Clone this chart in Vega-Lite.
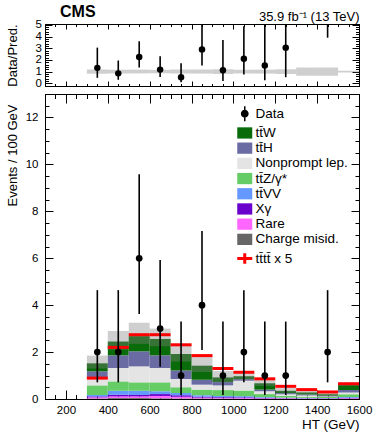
{
  "$schema": "https://vega.github.io/schema/vega-lite/v6.json",
  "background": "white",
  "padding": {"left": 5, "top": 3, "right": 2, "bottom": 2},
  "config": {
    "font": "Liberation Sans",
    "view": {"stroke": "#000000", "strokeWidth": 1},
    "axis": {"grid": false, "domainColor": "#000000", "tickColor": "#000000", "labelColor": "#000000", "titleColor": "#000000", "labelFont": "Liberation Sans", "titleFont": "Liberation Sans", "titleFontWeight": "normal", "labelFontSize": 11.5, "titleFontSize": 13, "domainWidth": 1, "tickWidth": 1, "labelOverlap": false, "labelFlush": false, "labelBound": false},
    "title": {"font": "Liberation Sans", "color": "#000000"}
  },
  "datasets": {
    "stack": [
      {"lo": 300, "hi": 400, "cm": 0.02, "rare": 0.05, "xg": 0.04, "ttvv": 0.06, "ttz": 0.41, "np": 0.31, "tth": 0.29, "ttw": 0.34},
      {"lo": 400, "hi": 500, "cm": 0.04, "rare": 0.07, "xg": 0.07, "ttvv": 0.17, "ttz": 0.40, "np": 0.57, "tth": 0.54, "ttw": 0.59},
      {"lo": 500, "hi": 600, "cm": 0.04, "rare": 0.07, "xg": 0.06, "ttvv": 0.18, "ttz": 0.36, "np": 0.68, "tth": 0.64, "ttw": 0.65},
      {"lo": 600, "hi": 700, "cm": 0.03, "rare": 0.10, "xg": 0.08, "ttvv": 0.12, "ttz": 0.38, "np": 0.61, "tth": 0.54, "ttw": 0.70},
      {"lo": 700, "hi": 800, "cm": 0.02, "rare": 0.08, "xg": 0.06, "ttvv": 0.10, "ttz": 0.24, "np": 0.35, "tth": 0.37, "ttw": 0.70},
      {"lo": 800, "hi": 900, "cm": 0.02, "rare": 0.04, "xg": 0.04, "ttvv": 0.06, "ttz": 0.24, "np": 0.21, "tth": 0.21, "ttw": 0.60},
      {"lo": 900, "hi": 1000, "cm": 0.02, "rare": 0.03, "xg": 0.03, "ttvv": 0.05, "ttz": 0.25, "np": 0.20, "tth": 0.14, "ttw": 0.20},
      {"lo": 1000, "hi": 1100, "cm": 0.01, "rare": 0.03, "xg": 0.03, "ttvv": 0.05, "ttz": 0.24, "np": 0.42, "tth": 0.07, "ttw": 0.12},
      {"lo": 1100, "hi": 1200, "cm": 0.01, "rare": 0.02, "xg": 0.02, "ttvv": 0.03, "ttz": 0.13, "np": 0.12, "tth": 0.07, "ttw": 0.27},
      {"lo": 1200, "hi": 1300, "cm": 0.01, "rare": 0.02, "xg": 0.01, "ttvv": 0.02, "ttz": 0.08, "np": 0.06, "tth": 0.05, "ttw": 0.10},
      {"lo": 1300, "hi": 1400, "cm": 0.01, "rare": 0.01, "xg": 0.01, "ttvv": 0.02, "ttz": 0.05, "np": 0.05, "tth": 0.04, "ttw": 0.09},
      {"lo": 1400, "hi": 1500, "cm": 0.01, "rare": 0.01, "xg": 0.01, "ttvv": 0.01, "ttz": 0.04, "np": 0.03, "tth": 0.03, "ttw": 0.06},
      {"lo": 1500, "hi": 1600, "cm": 0.01, "rare": 0.02, "xg": 0.02, "ttvv": 0.03, "ttz": 0.12, "np": 0.08, "tth": 0.10, "ttw": 0.25}
    ],
    "comps": [
      {"key": "cm", "c": "Charge misid.", "k": 0},
      {"key": "rare", "c": "Rare", "k": 1},
      {"key": "xg", "c": "Xγ", "k": 2},
      {"key": "ttvv", "c": "tt̄VV", "k": 3},
      {"key": "ttz", "c": "tt̄Z/γ*", "k": 4},
      {"key": "np", "c": "Nonprompt lep.", "k": 5},
      {"key": "tth", "c": "tt̄H", "k": 6},
      {"key": "ttw", "c": "tt̄W", "k": 7}
    ],
    "bins": [
      {"lo": 300, "hi": 400, "ulo": 1.30, "uhi": 1.85, "sig": 0.89, "rlo": 0.82, "rhi": 1.18},
      {"lo": 400, "hi": 500, "ulo": 2.10, "uhi": 2.90, "sig": 2.20, "rlo": 0.84, "rhi": 1.16},
      {"lo": 500, "hi": 600, "ulo": 2.35, "uhi": 3.25, "sig": 2.74, "rlo": 0.85, "rhi": 1.17},
      {"lo": 600, "hi": 700, "ulo": 2.25, "uhi": 3.00, "sig": 2.74, "rlo": 0.86, "rhi": 1.15},
      {"lo": 700, "hi": 800, "ulo": 1.60, "uhi": 2.35, "sig": 2.31, "rlo": 0.84, "rhi": 1.17},
      {"lo": 800, "hi": 900, "ulo": 1.15, "uhi": 1.85, "sig": 1.85, "rlo": 0.83, "rhi": 1.18},
      {"lo": 900, "hi": 1000, "ulo": 0.72, "uhi": 1.20, "sig": 1.30, "rlo": 0.80, "rhi": 1.20},
      {"lo": 1000, "hi": 1100, "ulo": 0.80, "uhi": 1.15, "sig": 1.14, "rlo": 0.84, "rhi": 1.16},
      {"lo": 1100, "hi": 1200, "ulo": 0.55, "uhi": 0.85, "sig": 0.86, "rlo": 0.83, "rhi": 1.17},
      {"lo": 1200, "hi": 1300, "ulo": 0.27, "uhi": 0.47, "sig": 0.54, "rlo": 0.80, "rhi": 1.20},
      {"lo": 1300, "hi": 1400, "ulo": 0.20, "uhi": 0.38, "sig": 0.40, "rlo": 0.65, "rhi": 1.35},
      {"lo": 1400, "hi": 1500, "ulo": 0.13, "uhi": 0.28, "sig": 0.30, "rlo": 0.65, "rhi": 1.35},
      {"lo": 1500, "hi": 1600, "ulo": 0.55, "uhi": 0.70, "sig": 0.65, "rlo": 0.92, "rhi": 1.08}
    ],
    "obs": [
      {"x": 350, "n": 2, "elo": 0.71, "ehi": 4.64, "r": 1.32, "rlo": 0.47, "rhi": 3.05},
      {"x": 450, "n": 2, "elo": 0.71, "ehi": 4.64, "r": 0.85, "rlo": 0.30, "rhi": 1.95},
      {"x": 550, "n": 6, "elo": 3.62, "ehi": 9.58, "r": 2.25, "rlo": 1.36, "rhi": 3.60},
      {"x": 650, "n": 3, "elo": 1.37, "ehi": 5.92, "r": 1.17, "rlo": 0.53, "rhi": 2.31},
      {"x": 750, "n": 1, "elo": 0.17, "ehi": 3.30, "r": 0.52, "rlo": 0.09, "rhi": 1.72},
      {"x": 850, "n": 4, "elo": 2.09, "ehi": 7.16, "r": 2.90, "rlo": 1.52, "rhi": 5.19},
      {"x": 950, "n": 1, "elo": 0.17, "ehi": 3.30, "r": 1.12, "rlo": 0.19, "rhi": 3.70},
      {"x": 1050, "n": 2, "elo": 0.71, "ehi": 4.64, "r": 2.10, "rlo": 0.75, "rhi": 4.88},
      {"x": 1150, "n": 1, "elo": 0.17, "ehi": 3.30, "r": 1.53, "rlo": 0.27, "rhi": 5.08},
      {"x": 1250, "n": 1, "elo": 0.17, "ehi": 3.30, "r": 3.05, "rlo": 0.52, "rhi": 10.0},
      {"x": 1450, "n": 2, "elo": 0.71, "ehi": 4.64, "r": 11.1, "rlo": 3.90, "rhi": 25.0}
    ]
  },
  "spacing": 8,
  "bounds": "flush",
  "resolve": {"scale": {"color": "independent"}},
  "vconcat": [
    {
      "width": 314,
      "height": 62,
      "title": {"text": "CMS", "anchor": "start", "frame": "group", "dx": 15, "fontSize": 16, "fontWeight": "bold", "offset": -22.5, "baseline": "alphabetic"},
      "resolve": {"axis": {"x": "independent", "y": "independent"}},
      "layer": [
        {
          "data": {"name": "bins"},
          "mark": {"type": "rect", "fill": "#808080", "fillOpacity": 0.38, "strokeWidth": 0},
          "encoding": {
            "x": {"field": "lo", "type": "quantitative", "scale": {"domain": [100, 1600], "nice": false, "zero": false},
              "axis": {"orient": "bottom", "labels": false, "title": null, "values": [150,200,250,300,350,400,450,500,550,600,650,700,750,800,850,900,950,1000,1050,1100,1150,1200,1250,1300,1350,1400,1450,1500,1550,1600],
                "tickSize": {"condition": {"test": "datum.value % 200 === 0", "value": -5}, "value": -2.5}}},
            "x2": {"field": "hi"},
            "y": {"field": "rlo", "type": "quantitative", "scale": {"domain": [-0.23, 5.07], "nice": false, "zero": false},
              "axis": {"orient": "left", "values": [0,0.2,0.4,0.6,0.8,1,1.2,1.4,1.6,1.8,2,2.2,2.4,2.6,2.8,3,3.2,3.4,3.6,3.8,4,4.2,4.4,4.6,4.8,5],
                "labelExpr": "datum.value % 1 === 0 ? format(datum.value, 'd') : ''",
                "tickSize": {"condition": {"test": "datum.value % 1 === 0", "value": -7}, "value": -3.5},
                "labelPadding": 10.5, "title": "Data/Pred.", "titleX": -33, "titleY": 0, "titleAngle": 270, "titleAlign": "right", "titleBaseline": "middle"}},
            "y2": {"field": "rhi"}
          }
        },
        {
          "mark": {"type": "rule", "color": "#000000", "strokeWidth": 1},
          "encoding": {"y": {"datum": 1, "type": "quantitative", "axis": null}}
        },
        {
          "data": {"name": "obs"},
          "mark": {"type": "rule", "color": "#000000", "strokeWidth": 1.6, "clip": true},
          "encoding": {
            "x": {"field": "x", "type": "quantitative",
              "axis": {"orient": "top", "labels": false, "values": [150,200,250,300,350,400,450,500,550,600,650,700,750,800,850,900,950,1000,1050,1100,1150,1200,1250,1300,1350,1400,1450,1500,1550,1600],
                "tickSize": {"condition": {"test": "datum.value % 200 === 0", "value": -5}, "value": -2.5},
                "title": "35.9 fb⁻¹ (13 TeV)", "titleFontSize": 13, "titleX": 314, "titleY": -4, "titleAlign": "right", "titleBaseline": "alphabetic", "titleAngle": 0}},
            "y": {"field": "rlo", "type": "quantitative",
              "axis": {"orient": "right", "labels": false, "title": null, "values": [0,0.2,0.4,0.6,0.8,1,1.2,1.4,1.6,1.8,2,2.2,2.4,2.6,2.8,3,3.2,3.4,3.6,3.8,4,4.2,4.4,4.6,4.8,5],
                "tickSize": {"condition": {"test": "datum.value % 1 === 0", "value": -7}, "value": -3.5}}},
            "y2": {"field": "rhi"}
          }
        },
        {
          "data": {"name": "obs"},
          "mark": {"type": "point", "filled": true, "color": "#000000", "opacity": 1, "size": 42, "clip": true},
          "encoding": {
            "x": {"field": "x", "type": "quantitative", "axis": null},
            "y": {"field": "r", "type": "quantitative", "axis": null}
          }
        }
      ]
    },
    {
      "width": 314,
      "height": 305,
      "resolve": {"axis": {"x": "independent", "y": "independent"}},
      "layer": [
        {
          "data": {"name": "stack"},
          "transform": [
            {"fold": ["cm", "rare", "xg", "ttvv", "ttz", "np", "tth", "ttw"], "as": ["key", "v"]},
            {"lookup": "key", "from": {"data": {"name": "comps"}, "key": "key", "fields": ["c", "k"]}},
            {"stack": "v", "groupby": ["lo"], "sort": [{"field": "k", "order": "ascending"}], "as": ["y0", "y1"]}
          ],
          "mark": {"type": "rect", "strokeWidth": 0},
          "encoding": {
            "x": {"field": "lo", "type": "quantitative", "scale": {"domain": [100, 1600], "nice": false, "zero": false},
              "axis": {"orient": "bottom", "values": [150,200,250,300,350,400,450,500,550,600,650,700,750,800,850,900,950,1000,1050,1100,1150,1200,1250,1300,1350,1400,1450,1500,1550,1600],
                "labelExpr": "datum.value % 200 === 0 ? format(datum.value, 'd') : ''",
                "tickSize": {"condition": {"test": "datum.value % 200 === 0", "value": -9}, "value": -4.5},
                "labelPadding": 14, "title": "HT (GeV)", "titleFontSize": 13.5, "titleX": 314, "titleY": 29.5, "titleAlign": "right", "titleBaseline": "alphabetic"}},
            "x2": {"field": "hi"},
            "y": {"field": "y0", "type": "quantitative", "scale": {"domain": [0, 13], "nice": false},
              "axis": {"orient": "left", "values": [0,0.5,1,1.5,2,2.5,3,3.5,4,4.5,5,5.5,6,6.5,7,7.5,8,8.5,9,9.5,10,10.5,11,11.5,12,12.5,13],
                "labelExpr": "datum.value % 2 === 0 ? format(datum.value, 'd') : ''",
                "tickSize": {"condition": {"test": "datum.value % 2 === 0", "value": -8}, "value": -4},
                "labelPadding": 15, "title": "Events / 100 GeV", "titleX": -33, "titleY": 10, "titleAngle": 270, "titleAlign": "right", "titleBaseline": "middle"}},
            "y2": {"field": "y1"},
            "color": {"field": "c", "type": "nominal",
              "scale": {"domain": ["Data", "tt̄W", "tt̄H", "Nonprompt lep.", "tt̄Z/γ*", "tt̄VV", "Xγ", "Rare", "Charge misid.", "tt̄tt̄ x 5"],
                "range": ["#000000", "#0a6b0a", "#6a6ba3", "#e4e4e4", "#66cc66", "#6699ff", "#6a00cc", "#ff66ff", "#666666", "#ff0000"]},
              "legend": {"orient": "none", "legendX": 193, "legendY": 13, "title": null, "padding": 0, "offset": 0,
                "labelFont": "Liberation Sans", "labelFontSize": 13.5, "labelColor": "#000000", "labelOffset": 4, "labelLimit": 200,
                "symbolSize": 225, "rowPadding": 0.2, "symbolStrokeWidth": 0, "symbolOpacity": 1,
                "encode": {"symbols": {"update": {
                  "shape": {"signal": "datum.value === 'Data' ? 'M0,-1V1M0.42,0A0.42,0.42 0 1,1 -0.42,0A0.42,0.42 0 1,1 0.42,0Z' : (datum.value === 'tt̄tt̄ x 5' ? 'M-1,0H1M0,-0.7V0.7' : 'M-1,-0.75H1V0.75H-1Z')"},
                  "size": {"value": 225},
                  "stroke": {"signal": "datum.value === 'tt̄tt̄ x 5' ? '#ff0000' : (datum.value === 'Data' ? '#000000' : 'transparent')"},
                  "strokeWidth": {"signal": "datum.value === 'tt̄tt̄ x 5' ? 3 : (datum.value === 'Data' ? 1.5 : 0)"}
                }}}}}
          }
        },
        {
          "data": {"name": "bins"},
          "mark": {"type": "rect", "fill": "#808080", "fillOpacity": 0.38, "strokeWidth": 0},
          "encoding": {
            "x": {"field": "lo", "type": "quantitative",
              "axis": {"orient": "top", "labels": false, "title": null, "values": [150,200,250,300,350,400,450,500,550,600,650,700,750,800,850,900,950,1000,1050,1100,1150,1200,1250,1300,1350,1400,1450,1500,1550,1600],
                "tickSize": {"condition": {"test": "datum.value % 200 === 0", "value": -9}, "value": -4.5}}},
            "x2": {"field": "hi"},
            "y": {"field": "ulo", "type": "quantitative",
              "axis": {"orient": "right", "labels": false, "title": null, "values": [0,0.5,1,1.5,2,2.5,3,3.5,4,4.5,5,5.5,6,6.5,7,7.5,8,8.5,9,9.5,10,10.5,11,11.5,12,12.5,13],
                "tickSize": {"condition": {"test": "datum.value % 2 === 0", "value": -8}, "value": -4}}},
            "y2": {"field": "uhi"}
          }
        },
        {
          "data": {"name": "bins"},
          "mark": {"type": "rule", "color": "#ff0000", "strokeWidth": 3},
          "encoding": {
            "x": {"field": "lo", "type": "quantitative", "axis": null},
            "x2": {"field": "hi"},
            "y": {"field": "sig", "type": "quantitative", "axis": null}
          }
        },
        {
          "data": {"name": "obs"},
          "mark": {"type": "rule", "color": "#000000", "strokeWidth": 1.6},
          "encoding": {
            "x": {"field": "x", "type": "quantitative", "axis": null},
            "y": {"field": "elo", "type": "quantitative", "axis": null},
            "y2": {"field": "ehi"}
          }
        },
        {
          "data": {"name": "obs"},
          "mark": {"type": "point", "filled": true, "color": "#000000", "opacity": 1, "size": 45},
          "encoding": {
            "x": {"field": "x", "type": "quantitative", "axis": null},
            "y": {"field": "n", "type": "quantitative", "axis": null}
          }
        }
      ]
    }
  ]
}
